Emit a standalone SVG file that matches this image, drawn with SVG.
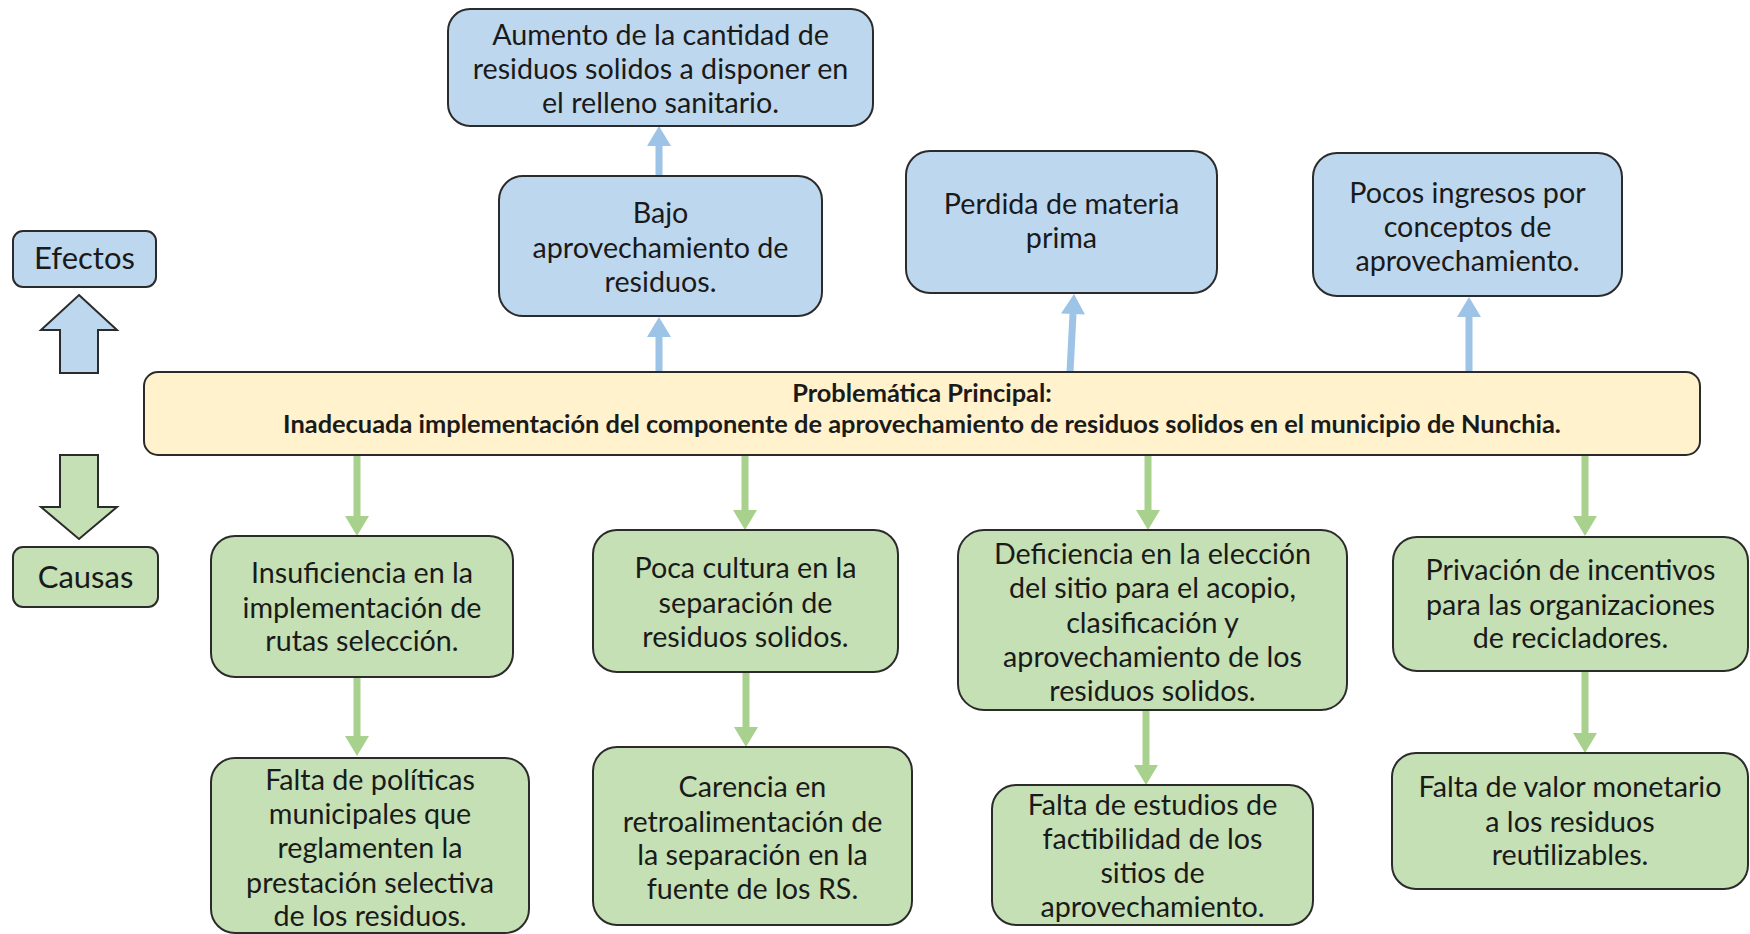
<svg xmlns="http://www.w3.org/2000/svg" width="1750" height="934" viewBox="0 0 1750 934">
<style>
.b{fill:#BDD7EE;stroke:#2b2b2b;stroke-width:2}
.g{fill:#C5E0B4;stroke:#2b2b2b;stroke-width:2}
.y{fill:#FFF2CC;stroke:#2b2b2b;stroke-width:2}
text{font-family:Lato,"Open Sans","Liberation Sans",sans-serif;font-size:28.7px;fill:#1a1a1a;text-anchor:middle}
.m{font-weight:bold;font-size:25.4px}
.l{font-size:31px}
.ab{stroke:#9DC3E6;stroke-width:7;fill:none}
.ag{stroke:#A9D18E;stroke-width:7;fill:none}
</style>
<defs>
<marker id="hb" markerUnits="userSpaceOnUse" markerWidth="24" markerHeight="24" refX="0" refY="12" orient="auto" viewBox="0 0 20 24"><path d="M0,0 L20,12 L0,24 Z" fill="#9DC3E6"/></marker>
<marker id="hg" markerUnits="userSpaceOnUse" markerWidth="24" markerHeight="24" refX="0" refY="12" orient="auto" viewBox="0 0 20 24"><path d="M0,0 L20,12 L0,24 Z" fill="#A9D18E"/></marker>
</defs>
<rect width="1750" height="934" fill="#ffffff"/>
<g id="connectors">
<line class="ab" x1="659" y1="372" x2="659" y2="337" marker-end="url(#hb)"/>
<line class="ab" x1="659" y1="175" x2="659" y2="146" marker-end="url(#hb)"/>
<line class="ab" x1="1070" y1="372" x2="1073" y2="314" marker-end="url(#hb)"/>
<line class="ab" x1="1469" y1="372" x2="1469" y2="317" marker-end="url(#hb)"/>
<line class="ag" x1="357" y1="455" x2="357" y2="516" marker-end="url(#hg)"/>
<line class="ag" x1="357" y1="677" x2="357" y2="736" marker-end="url(#hg)"/>
<line class="ag" x1="745" y1="455" x2="745" y2="510" marker-end="url(#hg)"/>
<line class="ag" x1="746" y1="672" x2="746" y2="727" marker-end="url(#hg)"/>
<line class="ag" x1="1148" y1="455" x2="1148" y2="510" marker-end="url(#hg)"/>
<line class="ag" x1="1146" y1="710" x2="1146" y2="765" marker-end="url(#hg)"/>
<line class="ag" x1="1585" y1="455" x2="1585" y2="516" marker-end="url(#hg)"/>
<line class="ag" x1="1585" y1="671" x2="1585" y2="733" marker-end="url(#hg)"/>
</g>
<g id="legend-up-arrow"><path class="b" d="M79,295 L117,330 L98,330 L98,373 L60,373 L60,330 L41,330 Z"/></g>
<g id="legend-down-arrow"><path class="g" d="M60,455 L98,455 L98,507 L117,507 L79,539 L41,507 L60,507 Z"/></g>
<g id="efectos"><rect class="b" x="13" y="231" width="143" height="56" rx="10"/><text class="l" x="84.5" y="269">Efectos</text></g>
<g id="causas"><rect class="g" x="13" y="547" width="145" height="60" rx="10"/><text class="l" x="85.5" y="588">Causas</text></g>
<g id="main"><rect class="y" x="144" y="372" width="1556" height="83" rx="14"/>
<text class="m" x="922" y="402">Problemática Principal:</text>
<text class="m" x="922" y="433">Inadecuada implementación del componente de aprovechamiento de residuos solidos en el municipio de Nunchia.</text></g>
<g id="aumento"><rect class="b" x="448" y="9" width="425" height="117" rx="22"/>
<text x="660.5" y="45">Aumento de la cantidad de</text><text x="660.5" y="79">residuos solidos a disponer en</text><text x="660.5" y="113">el relleno sanitario.</text></g>
<g id="bajo"><rect class="b" x="499" y="176" width="323" height="140" rx="24"/>
<text x="660.5" y="223">Bajo</text><text x="660.5" y="258">aprovechamiento de</text><text x="660.5" y="292">residuos.</text></g>
<g id="perdida"><rect class="b" x="906" y="151" width="311" height="142" rx="24"/>
<text x="1061.5" y="214">Perdida de materia</text><text x="1061.5" y="248">prima</text></g>
<g id="pocos"><rect class="b" x="1313" y="153" width="309" height="143" rx="24"/>
<text x="1467.5" y="203">Pocos ingresos por</text><text x="1467.5" y="237">conceptos de</text><text x="1467.5" y="271">aprovechamiento.</text></g>
<g id="insuficiencia"><rect class="g" x="211" y="536" width="302" height="141" rx="24"/>
<text x="362" y="583">Insuficiencia en la</text><text x="362" y="618">implementación de</text><text x="362" y="651">rutas selección.</text></g>
<g id="falta-politicas"><rect class="g" x="211" y="758" width="318" height="175" rx="24"/>
<text x="370" y="790">Falta de políticas</text><text x="370" y="824">municipales que</text><text x="370" y="858">reglamenten la</text><text x="370" y="893">prestación selectiva</text><text x="370" y="926">de los residuos.</text></g>
<g id="poca-cultura"><rect class="g" x="593" y="530" width="305" height="142" rx="24"/>
<text x="745.5" y="578">Poca cultura en la</text><text x="745.5" y="613">separación de</text><text x="745.5" y="647">residuos solidos.</text></g>
<g id="carencia"><rect class="g" x="593" y="747" width="319" height="178" rx="24"/>
<text x="752.5" y="797">Carencia en</text><text x="752.5" y="832">retroalimentación de</text><text x="752.5" y="865">la separación en la</text><text x="752.5" y="899">fuente de los RS.</text></g>
<g id="deficiencia"><rect class="g" x="958" y="530" width="389" height="180" rx="26"/>
<text x="1152.5" y="564">Deficiencia en la elección</text><text x="1152.5" y="598">del sitio para el acopio,</text><text x="1152.5" y="633">clasificación y</text><text x="1152.5" y="667">aprovechamiento de los</text><text x="1152.5" y="701">residuos solidos.</text></g>
<g id="falta-estudios"><rect class="g" x="992" y="785" width="321" height="140" rx="24"/>
<text x="1152.5" y="815">Falta de estudios de</text><text x="1152.5" y="849">factibilidad de los</text><text x="1152.5" y="883">sitios de</text><text x="1152.5" y="917">aprovechamiento.</text></g>
<g id="privacion"><rect class="g" x="1393" y="537" width="355" height="134" rx="24"/>
<text x="1570.5" y="580">Privación de incentivos</text><text x="1570.5" y="615">para las organizaciones</text><text x="1570.5" y="648">de recicladores.</text></g>
<g id="falta-valor"><rect class="g" x="1392" y="753" width="356" height="136" rx="24"/>
<text x="1570" y="797">Falta de valor monetario</text><text x="1570" y="832">a los residuos</text><text x="1570" y="865">reutilizables.</text></g>
</svg>
